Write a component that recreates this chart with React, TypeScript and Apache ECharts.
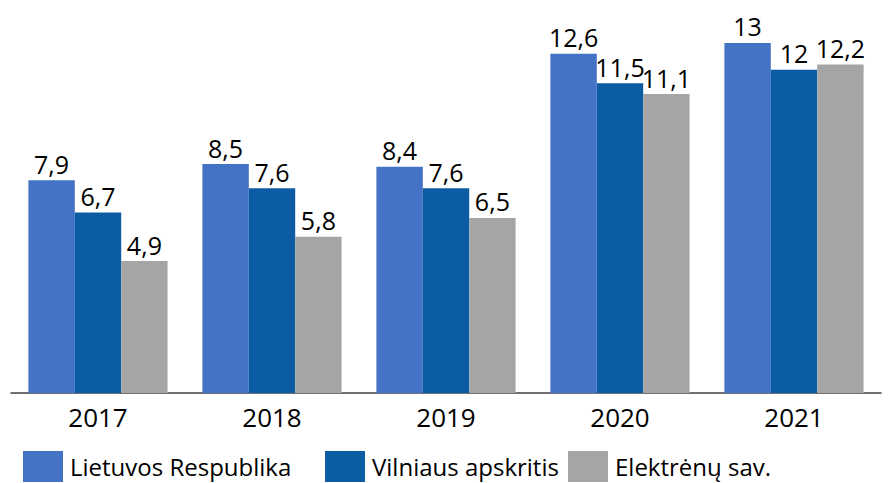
import React, { useEffect, useRef } from "react";
import * as echarts from "echarts";

const categories = ["2017", "2018", "2019", "2020", "2021"];
const lietuvos = [7.9, 8.5, 8.4, 12.6, 13];
const vilniaus = [6.7, 7.6, 7.6, 11.5, 12];
const elektrenu = [4.9, 5.8, 6.5, 11.1, 12.2];
const seriesNames = ["Lietuvos Respublika", "Vilniaus apskritis", "Elektrėnų sav."];
const colors = ["#4472C4", "#0B5CA3", "#A5A5A5"];
const legendLefts = [23, 325, 568];

const FONT = "Open Sans";

export default function App() {
  const ref = useRef<HTMLDivElement>(null);
  useEffect(() => {
    if (!ref.current) return;
    const chart = echarts.init(ref.current, undefined, { renderer: "svg" });
    const mk = (name: string, data: number[], color: string) => ({
      name,
      type: "bar",
      data,
      barGap: "0%",
      barCategoryGap: "20%",
      itemStyle: { color },
      label: {
        show: true,
        position: "top",
        distance: 4,
        color: "#000",
        fontFamily: FONT,
        fontSize: 25,
        formatter: (p: any) => String(p.value).replace(".", ","),
      },
    });
    chart.setOption({
      animation: false,
      textStyle: { fontFamily: FONT },
      grid: { left: 11, right: 7, top: 16, bottom: 90, containLabel: false },
      legend: seriesNames.map((n, i) => ({
        data: [n],
        left: legendLefts[i],
        top: 451,
        padding: 0,
        itemWidth: 40,
        itemHeight: 31,
        icon: "rect",
        textStyle: { fontFamily: FONT, fontSize: 24, color: "#000", padding: [0, 0, 0, 2] },
      })),
      xAxis: {
        type: "category",
        data: categories,
        axisLine: { show: true, lineStyle: { color: "#404040", width: 1.5 } },
        axisTick: { show: false },
        axisLabel: { color: "#000", fontFamily: FONT, fontSize: 26, margin: 11 },
      },
      yAxis: {
        type: "value",
        min: 0,
        max: 14,
        show: false,
        splitLine: { show: false },
      },
      series: [
        mk(seriesNames[0], lietuvos, colors[0]),
        mk(seriesNames[1], vilniaus, colors[1]),
        mk(seriesNames[2], elektrenu, colors[2]),
      ],
    });
    return () => chart.dispose();
  }, []);
  return (
    <div
      ref={ref}
      style={{ position: "fixed", left: 0, top: 0, width: 888, height: 483, background: "#fff" }}
    />
  );
}
